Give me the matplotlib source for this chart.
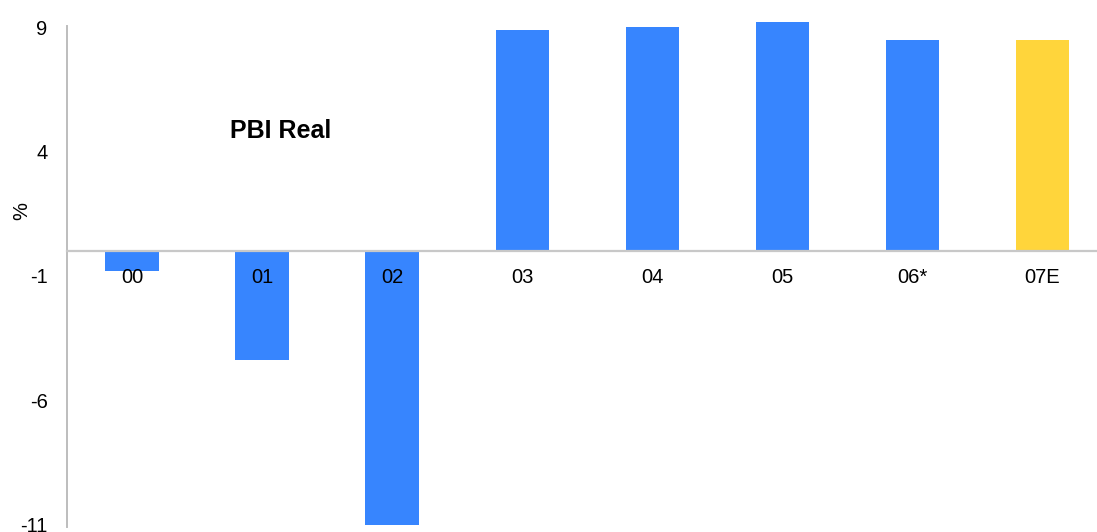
import matplotlib.pyplot as plt
import numpy as np

plt.rcParams["font.family"] = ["Liberation Sans", "DejaVu Sans"]
plt.rcParams["axes.unicode_minus"] = False

years = ["00", "01", "02", "03", "04", "05", "06*", "07E"]
growth = [-0.8, -4.4, -11.0, 8.9, 9.0, 9.2, 8.5, 8.5]
colors = ["#3785fe"] * 7 + ["#ffd53b"]
yticks = [9, 4, -1, -6, -11]

fig = plt.figure(figsize=(10.97, 5.32), dpi=100)
ax = fig.add_axes([67 / 1097, 5 / 532, 1 - 67 / 1097, 501 / 532])

x = np.arange(len(years))
bars = ax.bar(x, growth, width=0.41, color=colors, zorder=1)
for b in bars:
    b.set_clip_on(False)

ax.set_xlim(-0.5, 7.42)
ax.set_ylim(-11.1, 9.05)

# x axis sits on zero
ax.spines["bottom"].set_position(("data", 0))
ax.spines["bottom"].set_color("#c8c8c8")
ax.spines["bottom"].set_linewidth(1.6)
ax.spines["left"].set_color("#bdbdbd")
ax.spines["left"].set_linewidth(1.4)
ax.spines["top"].set_visible(False)
ax.spines["right"].set_visible(False)

ax.set_xticks(x)
ax.set_xticklabels(years)
ax.tick_params(axis="x", length=0, pad=12, labelsize=14.5)
ax.set_yticks(yticks)
ax.tick_params(axis="y", length=0, pad=14, labelsize=14.5)

ax.set_ylabel("%", fontsize=14.5)
ax.yaxis.set_label_coords(-0.035, 0.63)

ax.text(1.14, 4.84, "PBI Real", fontsize=18, fontweight="bold", ha="center", va="center")

fig.savefig("out.png", dpi=100)
